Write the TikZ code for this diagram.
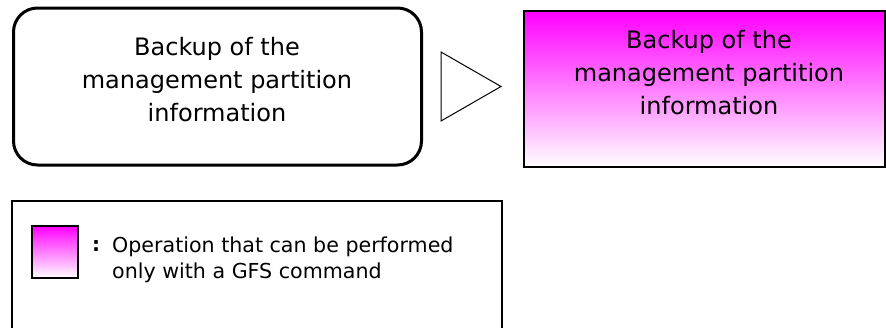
\documentclass[tikz,border=0pt]{standalone}
\usepackage{fontspec}
\setmainfont{DejaVu Sans}
\begin{document}
\begin{tikzpicture}[x=1pt,y=-1pt,
  boxtext/.style={font=\fontsize{24}{33}\selectfont, align=center, inner sep=0pt, anchor=north},
  legtext/.style={font=\fontsize{20.6}{26}\selectfont, align=left, inner sep=0pt, anchor=north west},
  gfsfill/.style={top color=magenta, bottom color=white},
  plainbox/.style={draw=black, inner sep=0pt}]
\useasboundingbox (0,0) rectangle (886,327);
\clip (0,0) rectangle (886,327);
% source box
\node[plainbox, line width=3pt, rounded corners=24pt, minimum width=408pt, minimum height=157pt] (src) at (217.5,86.5) {};
\node[boxtext] (srctext) at (217,37) {Backup of the\\management partition\\information};
% triangle arrow
\draw[line width=1pt, line join=miter] (441,52) -- (501,86.5) -- (441,121) -- cycle;
% GFS box
\node[plainbox, gfsfill, line width=1.5pt, minimum width=361pt, minimum height=156pt] (gfs) at (704.5,89) {};
\node[boxtext] (gfstext) at (709,30) {Backup of the\\management partition\\information};
% legend
\node[plainbox, line width=1.2pt, minimum width=490pt, minimum height=160pt] (legend) at (257,281) {};
\node[plainbox, gfsfill, line width=1.5pt, minimum width=46pt, minimum height=52pt] (legsq) at (55,252) {};
\node[font=\fontsize{20}{26}\selectfont\bfseries, inner sep=0pt] (colon) at (96,246) {:};
\node[legtext] (legtxt) at (112,236.5) {Operation that can be performed\\only with a GFS command};
\end{tikzpicture}
\end{document}
